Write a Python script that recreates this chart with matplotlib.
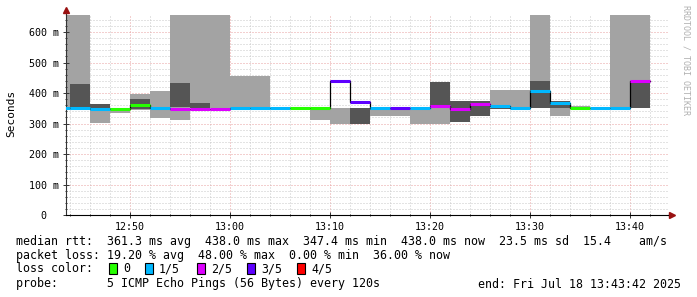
import numpy as np
import matplotlib
matplotlib.use('Agg')
import matplotlib.pyplot as plt
from matplotlib.patches import Rectangle

# smokeping data, one entry per 2 min step (end time of step), values in ms
binEnd = ['12:44', '12:46', '12:48', '12:50', '12:52', '12:54', '12:56', '12:58',
          '13:00', '13:02', '13:04', '13:06', '13:08', '13:10', '13:12', '13:14',
          '13:16', '13:18', '13:20', '13:22', '13:24', '13:26', '13:28', '13:30',
          '13:32', '13:34', '13:36', '13:38', '13:40', '13:42']
nan = np.nan
lightLo = [346, 344, 302, 334, 344, 319, 311, 352, 352, 352, 352, nan, nan, 310, 298,
           nan, 325, 325, 297, 297, nan, nan, 350, 355, 352, 325, 350, nan, 352, 352]
lightHi = [700, 700, 364, 350, 397, 406, 700, 700, 700, 456, 456, nan, nan, 350, 350,
           nan, 345, 350, 350, 437, nan, nan, 411, 411, 700, 357, 358, nan, 700, 700]
darkLo = [349, 352, 350, 347, 347, nan, 353, 352, nan, nan, nan, nan, nan, nan, nan,
          300, 343, nan, nan, 358, 306, 325, 347, nan, 352, 350, nan, nan, nan, 352]
darkHi = [355, 430, 364, 350, 380, nan, 433, 367, nan, nan, nan, nan, nan, nan, nan,
          352, 348, nan, nan, 437, 374, 374, 352, nan, 441, 375, nan, nan, nan, 437]
median = [350, 350, 347.4, 348, 362, 350, 348, 348, 348, 350, 351, 350, 350, 350, 438,
          371, 350, 351, 350, 357, 348, 364, 358, 350, 408, 368, 352, 350, 350, 438]
loss = [1, 1, 1, 0, 0, 1, 2, 2, 2, 1, 1, 1, 0, 0, 3,
        3, 1, 3, 1, 2, 2, 2, 1, 1, 1, 1, 0, 1, 1, 2]  # lost pings out of 5

lossLabels = ['0', '1/5', '2/5', '3/5', '4/5']
lossColors = ['#26ff00', '#00b8ff', '#dd00ff', '#5e00ff', '#ff0000']

legendLines = [
    'median rtt:  361.3 ms avg  438.0 ms max  347.4 ms min  438.0 ms now  23.5 ms sd  15.4    am/s',
    'packet loss: 19.20 % avg  48.00 % max  0.00 % min  36.00 % now',
]
probeText = 'probe:       5 ICMP Echo Pings (56 Bytes) every 120s'
endText = 'end: Fri Jul 18 13:43:42 2025'

def toMin(s):  # minutes after 12:00
    h, m = s.split(':')
    return (int(h) - 12) * 60 + int(m)

ends = np.array([toMin(s) for s in binEnd], dtype=float)
starts = ends - 2
lightLo = np.array(lightLo); lightHi = np.array(lightHi)
darkLo = np.array(darkLo); darkHi = np.array(darkHi)
median = np.array(median)

mono = 'DejaVu Sans Mono'
W, H = 697, 297
fig = plt.figure(figsize=(W / 100, H / 100), dpi=100)
ax = fig.add_axes([66 / W, 1 - 215 / H, (668 - 66) / W, (215 - 15) / H])

xmin, xmax = 43.6, 103.8
ymax = 656

# grid
for t in np.arange(44, 104, 2):
    if t % 10 == 0:
        ax.axvline(t, color='#e8a0a0', lw=0.72, ls=(0, (1, 2)), zorder=0)
    else:
        ax.axvline(t, color='#c8c8c8', lw=0.72, ls=(0, (1, 2)), zorder=0)
for v in np.arange(20, ymax, 20):
    if v % 100 == 0:
        ax.axhline(v, color='#e8a0a0', lw=0.72, ls=(0, (1, 2)), zorder=0)
    else:
        ax.axhline(v, color='#c8c8c8', lw=0.72, ls=(0, (1, 2)), zorder=0)

# smoke
ok = ~np.isnan(lightLo)
ax.bar(starts[ok], lightHi[ok] - lightLo[ok], bottom=lightLo[ok], width=2, align='edge',
       color='#a3a3a3', lw=0, zorder=1)
ok = ~np.isnan(darkLo)
ax.bar(starts[ok], darkHi[ok] - darkLo[ok], bottom=darkLo[ok], width=2, align='edge',
       color='#555555', lw=0, zorder=2)

# median: black step then coloured by loss
ax.step(np.append(starts, ends[-1]), np.append(median, median[-1]), where='post',
        color='black', lw=0.9, zorder=3)
ax.hlines(median, starts, ends, colors=[lossColors[l] for l in loss], lw=2.2, zorder=4)

ax.set_xlim(xmin, xmax)
ax.set_ylim(0, ymax)

ax.set_xticks(np.arange(50, 104, 10))
ax.set_xticklabels(['%d:%02d' % (12 + t // 60, t % 60) for t in np.arange(50, 104, 10)])
ax.set_xticks(np.arange(44, 104, 2), minor=True)
ax.set_yticks(np.arange(0, 700, 100))
ax.set_yticklabels(['0  '] + ['%d m' % v for v in range(100, 700, 100)])
ax.set_yticks(np.arange(0, ymax, 20), minor=True)
ax.tick_params(axis='both', which='both', direction='inout', color='#333333', width=0.7)
ax.tick_params(axis='both', which='major', length=4)
ax.tick_params(axis='both', which='minor', length=2)
ax.tick_params(axis='x', pad=3)
ax.tick_params(axis='y', pad=3)
for lab in ax.get_xticklabels() + ax.get_yticklabels():
    lab.set_fontfamily(mono)
    lab.set_fontsize(7.2)

for s in ['top', 'right']:
    ax.spines[s].set_visible(False)
ax.spines['left'].set_color('#333333')
ax.spines['bottom'].set_color('black')
ax.spines['left'].set_linewidth(0.8)
ax.spines['bottom'].set_linewidth(0.8)

# axis extensions and arrows
ax.plot([0, 0], [1, 1.02], transform=ax.transAxes, color='#333333', lw=0.8, clip_on=False)
ax.plot([1, 1.005], [0, 0], transform=ax.transAxes, color='black', lw=0.8, clip_on=False)
ax.plot([0], [1.025], marker='^', ms=4, color='#991111', transform=ax.transAxes, clip_on=False)
ax.plot([1.006], [0], marker='>', ms=4, color='#991111', transform=ax.transAxes, clip_on=False)

fig.text(11 / W, 1 - 113 / H, 'Seconds', rotation=90, ha='center', va='center',
         family=mono, fontsize=8)
fig.text(686 / W, 1 - 5 / H, 'RRDTOOL / TOBI OETIKER', rotation=-90, ha='center', va='top',
         family=mono, fontsize=6, color='#b0b0b0')

# legend area
fs = 8.4
fig.text(16 / W, 1 - 241 / H, legendLines[0], family=mono, fontsize=fs, va='center')
fig.text(16 / W, 1 - 255 / H, legendLines[1], family=mono, fontsize=fs, va='center')
fig.text(16 / W, 1 - 269 / H, 'loss color:', family=mono, fontsize=fs, va='center')
boxX = [109, 145, 197, 247, 297]
for bx, lab, col in zip(boxX, lossLabels, lossColors):
    fig.add_artist(Rectangle((bx / W, 1 - 274 / H), 8 / W, 11 / H, facecolor=col,
                             edgecolor='black', lw=0.8, transform=fig.transFigure))
    fig.text((bx + 14) / W, 1 - 269 / H, lab, family=mono, fontsize=fs, va='center')
fig.text(16 / W, 1 - 284 / H, probeText, family=mono, fontsize=fs, va='center')
fig.text(681 / W, 1 - 284 / H, endText, family=mono, fontsize=fs, va='center', ha='right')

fig.savefig('out.png', dpi=100)
